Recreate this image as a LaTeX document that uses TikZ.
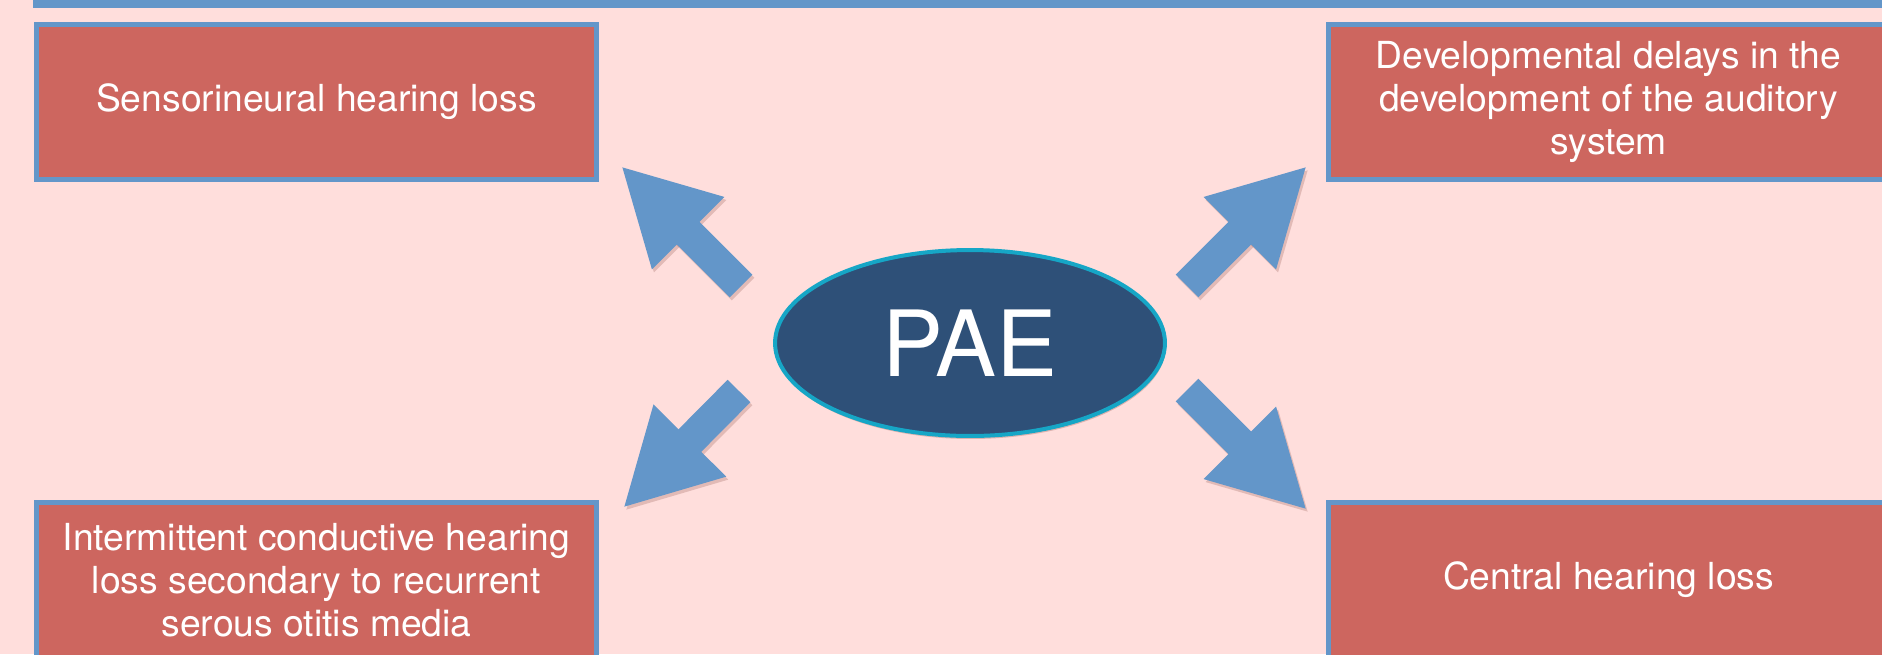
\documentclass[tikz,border=0pt]{standalone}
\usepackage{fontspec}
\setmainfont{TeX Gyre Heros}
\usepackage{tikz}
\usetikzlibrary{arrows.meta,shapes,shadows}
\definecolor{bgpink}{RGB}{255,222,220}
\definecolor{barblue}{RGB}{99,150,201}
\definecolor{boxred}{RGB}{205,102,95}
\definecolor{paeblue}{RGB}{46,80,120}
\definecolor{paerim}{RGB}{22,166,198}
\definecolor{shade}{RGB}{140,80,72}
\tikzstyle{effect}=[rectangle, draw=barblue, line width=0.1cm
,fill=boxred
,minimum width=11.22cm, minimum height=3.1cm
,inner sep=0pt
,text=white, align=center
,font=\fontsize{21.2}{24.5}\selectfont
,drop shadow={shadow xshift=0.03cm, shadow yshift=-0.06cm, fill=shade, opacity=0.3}
]
\tikzstyle{cause}=[ellipse, draw=paerim, line width=0.08cm
,fill=paeblue
,minimum width=7.8cm, minimum height=3.72cm
,inner sep=0pt
,text=white
,font=\fontsize{52}{52}\selectfont
,drop shadow={shadow xshift=0.02cm, shadow yshift=-0.06cm, fill=shade, opacity=0.3}
]
\tikzstyle{push} = [draw=barblue, line width=0.64cm, -{Triangle[length=1.9cm,width=1.9cm]}]
\tikzstyle{pushshadow} = [draw=shade, opacity=0.25, line width=0.64cm, -{Triangle[length=1.9cm,width=1.9cm]}]

\begin{document}
\begin{tikzpicture}[x=0.02cm, y=-0.02cm]
    % page and top bar
    \useasboundingbox (0,0) rectangle (1882,654);
    \clip (0,0) rectangle (1882,654);
    \fill[bgpink] (0,0) rectangle (1882,654);
    \fill[barblue] (33,0) rectangle (1882,8);
    % First we draw the four outcome boxes
    \foreach \pos/\name/\txt in {{(316.5,102)/snhl/Sensorineural hearing loss},
        {(1608.5,102)/delay/{Developmental delays in the\\development of the auditory\\system}},
        {(316.5,580)/conduct/{Intermittent conductive hearing\\loss secondary to recurrent\\serous otitis media}},
        {(1608.5,580)/central/Central hearing loss}}
        \node[effect] (\name) at \pos {\txt};
    % Arrow ends
    \coordinate (tlt) at (741,286);
    \coordinate (tlh) at (621,166);
    \coordinate (trt) at (1187,286);
    \coordinate (trh) at (1307,166);
    \coordinate (blt) at (739,391);
    \coordinate (blh) at (623,508);
    \coordinate (brt) at (1187,390);
    \coordinate (brh) at (1307,510);
    % Block arrows pointing out of the centre
    \foreach \from/\to in {tlt/tlh, trt/trh, blt/blh, brt/brh}
    {
        \draw[pushshadow] ([shift={(2,3)}]\from) -- ([shift={(2,3)}]\to);
        \draw[push] (\from) -- (\to);
    }
    % Centre
    \node[cause] (pae) at (970,343) {PAE};
\end{tikzpicture}
\end{document}
